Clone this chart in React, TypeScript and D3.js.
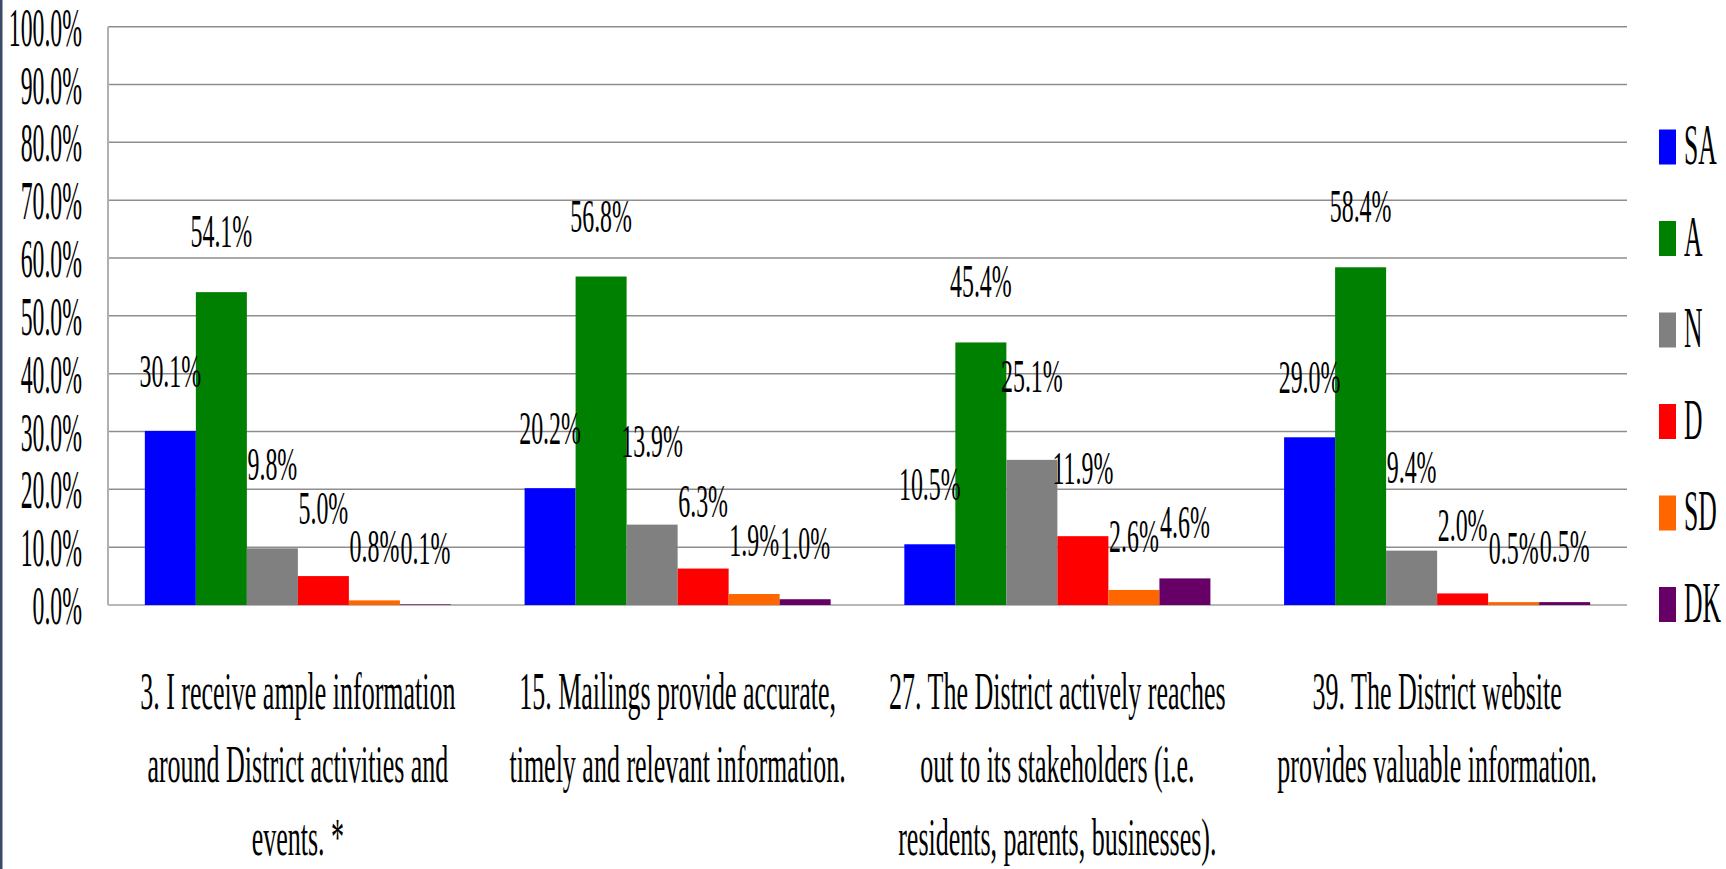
import React, { useEffect, useRef } from "react";
import * as d3 from "d3";

const categories = [
  ["3. I receive ample information", "around District activities and", "events. *"],
  ["15. Mailings provide accurate,", "timely and relevant information."],
  ["27. The District actively reaches", "out to its stakeholders (i.e.", "residents, parents, businesses)."],
  ["39. The District website", "provides valuable information."],
];
const seriesNames = ["SA", "A", "N", "D", "SD", "DK"];
const seriesColors = ["#0000ff", "#008000", "#808080", "#ff0000", "#ff6600", "#660066"];
const SA = [30.1, 20.2, 10.5, 29.0];
const A = [54.1, 56.8, 45.4, 58.4];
const N = [9.8, 13.9, 25.1, 9.4];
const D = [5.0, 6.3, 11.9, 2.0];
const SD = [0.8, 1.9, 2.6, 0.5];
const DK = [0.1, 1.0, 4.6, 0.5];
const yTicks = [0, 10, 20, 30, 40, 50, 60, 70, 80, 90, 100];

const W = 1726;
const H = 869;
const FONT = "'Liberation Serif', 'Times New Roman', serif";
// how far each series' data label sits above its bar top
const labelLift = [44, 45, 68, 52, 38, 40];

const App = () => {
  const svgRef = useRef<SVGSVGElement>(null);

  useEffect(() => {
    const svg = d3.select(svgRef.current);
    svg.selectAll("*").remove();
    const values = [SA, A, N, D, SD, DK];
    const left = 108, right = 1627, top = 26.7, bottom = 605;

    const x0 = d3
      .scaleBand<number>()
      .domain(categories.map((c, i) => i))
      .range([left, right])
      .paddingInner(0.194)
      .paddingOuter(0.097);
    const x1 = d3
      .scaleBand<number>()
      .domain(seriesNames.map((s, i) => i))
      .range([0, x0.bandwidth()]);
    const y = d3.scaleLinear().domain([0, 100]).range([bottom, top]);

    svg.append("rect").attr("x", 0).attr("y", 0).attr("width", W).attr("height", H).attr("fill", "#fff");
    svg.append("rect").attr("x", 0).attr("y", 0).attr("width", 2.5).attr("height", H).attr("fill", "#3b4a68");

    // gridlines
    svg
      .append("g")
      .selectAll("line")
      .data(yTicks.filter((t) => t > 0))
      .join("line")
      .attr("x1", left)
      .attr("x2", right)
      .attr("y1", (d) => y(d))
      .attr("y2", (d) => y(d))
      .attr("stroke", "#8e8e8e")
      .attr("stroke-width", 1.5);

    // axes lines
    svg.append("line").attr("x1", left).attr("x2", left).attr("y1", top).attr("y2", bottom)
      .attr("stroke", "#b0b0b0").attr("stroke-width", 2);
    svg.append("line").attr("x1", left).attr("x2", right).attr("y1", bottom).attr("y2", bottom)
      .attr("stroke", "#b8b8b8").attr("stroke-width", 2);

    // y tick labels
    svg
      .append("g")
      .selectAll("text")
      .data(yTicks)
      .join("text")
      .attr("transform", (d) => `translate(82,${y(d) + 19}) scale(0.44,1)`)
      .attr("text-anchor", "end")
      .attr("font-family", FONT)
      .attr("font-size", 54)
      .text((d) => d3.format(".1f")(d) + "%");

    // bars
    const groups = svg
      .append("g")
      .selectAll("g")
      .data(categories.map((c, i) => i))
      .join("g")
      .attr("transform", (i) => `translate(${x0(i)},0)`);

    groups
      .selectAll("rect")
      .data((i) => values.map((v, s) => ({ s, v: v[i] })))
      .join("rect")
      .attr("x", (d) => x1(d.s)!)
      .attr("width", x1.bandwidth())
      .attr("y", (d) => y(d.v))
      .attr("height", (d) => y(0) - y(d.v))
      .attr("fill", (d) => seriesColors[d.s]);

    groups
      .selectAll("text")
      .data((i) => values.map((v, s) => ({ s, v: v[i] })))
      .join("text")
      .attr(
        "transform",
        (d) => `translate(${x1(d.s)! + x1.bandwidth() / 2},${y(d.v) - labelLift[d.s]}) scale(0.52,1)`
      )
      .attr("text-anchor", "middle")
      .attr("font-family", FONT)
      .attr("font-size", 46)
      .text((d) => d3.format(".1f")(d.v) + "%");

    // category labels
    const cat = svg
      .append("g")
      .selectAll("g")
      .data(categories)
      .join("g")
      .attr("transform", (c, i) => `translate(${x0(i)! + x0.bandwidth() / 2},0)`);
    cat
      .selectAll("text")
      .data((c) => c)
      .join("text")
      .attr("transform", (line, j) => `translate(0,${709 + j * 73}) scale(0.5,1)`)
      .attr("text-anchor", "middle")
      .attr("font-family", FONT)
      .attr("font-size", 52)
      .text((line) => line);

    // legend
    const legend = svg
      .append("g")
      .selectAll("g")
      .data(seriesNames)
      .join("g")
      .attr("transform", (s, i) => `translate(1659,${147 + i * 91.5})`);
    legend
      .append("rect")
      .attr("x", 0)
      .attr("y", -17.5)
      .attr("width", 17)
      .attr("height", 35)
      .attr("fill", (s, i) => seriesColors[i]);
    legend
      .append("text")
      .attr("transform", "translate(25,17) scale(0.45,1)")
      .attr("font-family", FONT)
      .attr("font-size", 57)
      .text((s) => s);
  }, []);

  return (
    <svg
      ref={svgRef}
      width={W}
      height={H}
      style={{ position: "absolute", left: 0, top: 0, display: "block" }}
    />
  );
};

export default App;
